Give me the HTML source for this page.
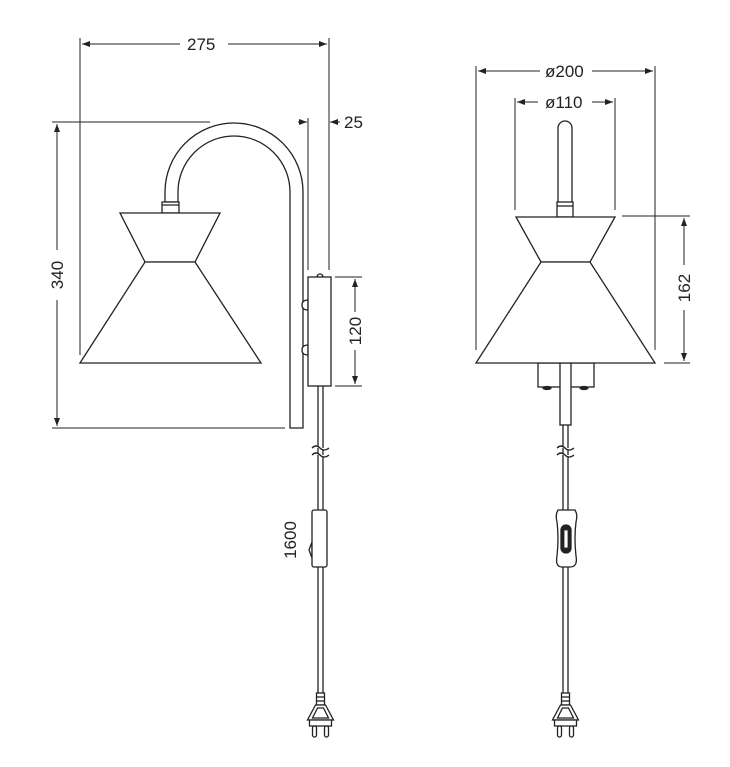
<!DOCTYPE html>
<html><head><style>body{margin:0;background:#fff}svg{display:block}text{font-family:"Liberation Sans",sans-serif;font-size:17px;fill:#222}</style></head>
<body>
<svg width="730" height="767" viewBox="0 0 730 767" xmlns="http://www.w3.org/2000/svg">
<defs>
<marker id="a" markerWidth="8" markerHeight="6" refX="8" refY="3" orient="auto" markerUnits="userSpaceOnUse"><path d="M0,0 L8,3 L0,6z" fill="#222"/></marker>
<g id="plug" fill="#fff" stroke="#222" stroke-width="1.3">
<rect x="-4" y="0" width="8" height="12"/><line x1="-4" y1="4" x2="4" y2="4"/><line x1="-4" y1="8" x2="4" y2="8"/>
<path d="M-5,12 L5,12 L13,27 L-13,27z"/><path d="M-3,15 L3,15 L8,25 L-8,25z"/>
<rect x="-11" y="27" width="22" height="6"/>
<rect x="-8" y="33" width="4" height="11" rx="2"/><rect x="4" y="33" width="4" height="11" rx="2"/>
</g>
</defs>
<g stroke="#222" stroke-width="1" fill="none">
<line x1="80" y1="38" x2="80" y2="355"/><line x1="329" y1="38" x2="329" y2="270"/>
<path d="M180,44 H82" marker-end="url(#a)"/><path d="M228,44 H327" marker-end="url(#a)"/>
<line x1="308" y1="118" x2="308" y2="270"/>
<path d="M298,122 H307" marker-end="url(#a)"/><path d="M340,122 H330" marker-end="url(#a)"/>
<line x1="52" y1="122" x2="210" y2="122"/><line x1="52" y1="428" x2="285" y2="428"/>
<path d="M57,250 V124" marker-end="url(#a)"/><path d="M57,300 V426" marker-end="url(#a)"/>
<line x1="335" y1="277" x2="362" y2="277"/><line x1="335" y1="386" x2="362" y2="386"/>
<path d="M355,312 V279" marker-end="url(#a)"/><path d="M355,350 V384" marker-end="url(#a)"/>
</g>
<text x="187" y="50">275</text><text x="344" y="128">25</text>
<text transform="translate(63,275) rotate(-90)" text-anchor="middle">340</text>
<text transform="translate(361,331) rotate(-90)" text-anchor="middle">120</text>
<text transform="translate(296,540) rotate(-90)" text-anchor="middle">1600</text>
<g stroke="#222" stroke-width="1.3" fill="#fff">
<path d="M165,202 V192 A69,69 0 0 1 303,192 V428 H290 V192 A56,56 0 0 0 178,192 V202z"/>
<rect x="162" y="202" width="17" height="11"/><line x1="162" y1="205" x2="179" y2="205"/>
<path d="M120,213 H220 L195,262 H145z"/><path d="M145,262 H195 L261,363 H80z"/>
<path d="M308,310 q-6,0 -6,-5 q0,-5 6,-5z"/><path d="M308,355 q-6,0 -6,-5 q0,-5 6,-5z"/>
<circle cx="320" cy="277" r="3"/>
<rect x="308" y="277" width="23" height="109"/>
<line x1="318" y1="386" x2="318" y2="700"/><line x1="323" y1="386" x2="323" y2="700"/>
<path d="M312,448 q4,-4 8,0 q4,4 9,0 M312,455 q4,-4 8,0 q4,4 9,0"/>
<path d="M309,550 l3,-8 v16z"/>
<rect x="312" y="510" width="15" height="57" rx="2"/>
<use href="#plug" x="320.5" y="693"/>
</g>
<g stroke="#222" stroke-width="1" fill="none">
<line x1="476" y1="66" x2="476" y2="350"/><line x1="655" y1="66" x2="655" y2="350"/>
<path d="M540,71 H478" marker-end="url(#a)"/><path d="M592,71 H653" marker-end="url(#a)"/>
<line x1="515" y1="98" x2="515" y2="210"/><line x1="615" y1="98" x2="615" y2="210"/>
<path d="M538,102 H517" marker-end="url(#a)"/><path d="M592,102 H613" marker-end="url(#a)"/>
<line x1="622" y1="216" x2="690" y2="216"/><line x1="664" y1="363" x2="690" y2="363"/>
<path d="M684,265 V218" marker-end="url(#a)"/><path d="M684,310 V361" marker-end="url(#a)"/>
</g>
<text x="545" y="77">ø200</text><text x="545" y="108">ø110</text>
<text transform="translate(690,288) rotate(-90)" text-anchor="middle">162</text>
<g stroke="#222" stroke-width="1.3" fill="#fff">
<path d="M558,205 V128 a7,7 0 0 1 14,0 V205z"/>
<rect x="557" y="202" width="16" height="15"/><line x1="557" y1="206" x2="573" y2="206"/>
<rect x="538" y="363" width="56" height="24"/>
<ellipse cx="547" cy="388" rx="4" ry="1.5" fill="#222"/><ellipse cx="584" cy="388" rx="4" ry="1.5" fill="#222"/>
<rect x="560" y="363" width="11" height="62"/>
<path d="M516,217 H615 L590,262 H541z"/><path d="M541,262 H590 L655,363 H476z"/>
<line x1="563" y1="425" x2="563" y2="700"/><line x1="568" y1="425" x2="568" y2="700"/>
<path d="M557,448 q4,-4 8,0 q4,4 9,0 M557,455 q4,-4 8,0 q4,4 9,0"/>
<path d="M558,510 H575 Q578,515 576,522 Q574,538 576,556 Q578,567 570,567 H562 Q555,567 557,556 Q559,538 557,522 Q555,515 558,510z"/>
<rect x="561" y="525" width="10" height="28" rx="5" fill="#222"/><rect x="564" y="530" width="4" height="18" fill="#fff" stroke-width="0.8"/>
<use href="#plug" x="565.5" y="693"/>
</g>
</svg>
</body></html>
